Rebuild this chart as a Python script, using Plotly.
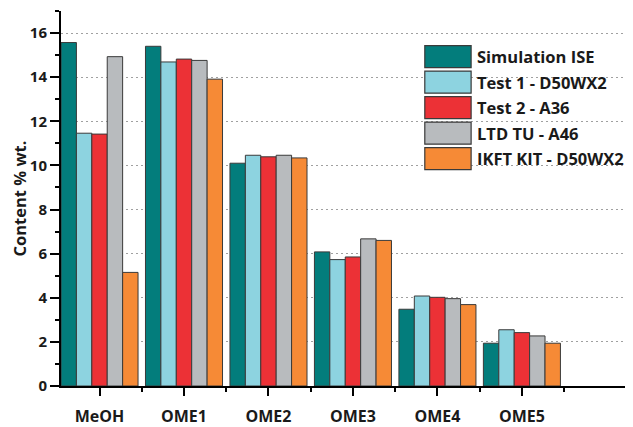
import plotly.graph_objects as go

categories = ["MeOH", "OME1", "OME2", "OME3", "OME4", "OME5"]
series_names = ["Simulation ISE", "Test 1 - D50WX2", "Test 2 - A36", "LTD TU - A46", "IKFT KIT - D50WX2"]
series_colors = ["#037d7c", "#8dd3e0", "#ec3136", "#b8bbbe", "#f68a36"]

sim_ise = [15.57, 15.40, 10.10, 6.08, 3.48, 1.94]
test1_d50wx2 = [11.46, 14.69, 10.46, 5.73, 4.08, 2.55]
test2_a36 = [11.42, 14.82, 10.39, 5.85, 4.02, 2.42]
ltd_tu_a46 = [14.93, 14.76, 10.46, 6.67, 3.96, 2.27]
ikft_kit_d50wx2 = [5.15, 13.91, 10.34, 6.60, 3.69, 1.94]

series_values = [sim_ise, test1_d50wx2, test2_a36, ltd_tu_a46, ikft_kit_d50wx2]
y_ticks = [0, 2, 4, 6, 8, 10, 12, 14, 16]

FONT = "Open Sans"
x_pos = list(range(len(categories)))

fig = go.Figure()
for name, color, vals in zip(series_names, series_colors, series_values):
    fig.add_trace(go.Bar(
        x=x_pos, y=vals, name=name,
        marker=dict(color=color, line=dict(color="#3a3a3a", width=1)),
        showlegend=False,
    ))

# custom legend with large swatches (paper coords; plot area 572 x 379 px)
L_W, L_H, L_PITCH = 0.081, 0.059, 0.068
lx0, ly_top = 0.636, 0.9078
for i, (name, color) in enumerate(zip(series_names, series_colors)):
    y1 = ly_top - i * L_PITCH
    y0 = y1 - L_H
    fig.add_shape(type="rect", xref="paper", yref="paper",
                  x0=lx0, x1=lx0 + L_W, y0=y0, y1=y1,
                  fillcolor=color, line=dict(color="#3a3a3a", width=1.2))
    fig.add_annotation(xref="paper", yref="paper", x=lx0 + L_W + 0.006, y=(y0 + y1) / 2,
                       text=name, showarrow=False, xanchor="left", yanchor="middle",
                       font=dict(family=FONT, size=16.5, color="#1a1a1a", weight="bold"))

# the page body adds an 8px margin, so the figure is sized/offset to compensate
fig.update_layout(
    width=625, height=419,
    margin=dict(l=53, r=0, t=3, b=37),
    paper_bgcolor="white", plot_bgcolor="white",
    barmode="group", bargap=0.088, bargroupgap=0,
    xaxis=dict(
        range=[-0.456, 6.315],
        tickmode="array", tickvals=x_pos, ticktext=categories,
        showline=True, linecolor="black", linewidth=2,
        ticks="outside", ticklen=8, tickwidth=2, tickcolor="black",
        minor=dict(tickvals=[p + 0.5 for p in x_pos], ticks="outside", ticklen=4,
                   tickwidth=2, tickcolor="black", showgrid=False),
        showgrid=False, zeroline=False,
        ticklabelstandoff=7,
        tickfont=dict(family=FONT, size=16, color="#1a1a1a", weight="bold"),
    ),
    yaxis=dict(
        range=[0, 17],
        tickmode="array", tickvals=y_ticks,
        showline=True, linecolor="black", linewidth=2,
        ticks="outside", ticklen=9, tickwidth=2, tickcolor="black",
        minor=dict(dtick=1, tick0=0, ticks="outside", ticklen=4, tickwidth=2,
                   tickcolor="black", showgrid=False),
        showgrid=True, gridcolor="#a0a0a0", griddash="1.5px,3.5px", gridwidth=1.2,
        zeroline=False,
        tickfont=dict(family=FONT, size=15, color="#1a1a1a", weight="bold"),
        title=dict(text="Content % wt.", standoff=4,
                   font=dict(family=FONT, size=16.5, color="#1a1a1a", weight="bold")),
    ),
)

fig.write_html("out.html")
